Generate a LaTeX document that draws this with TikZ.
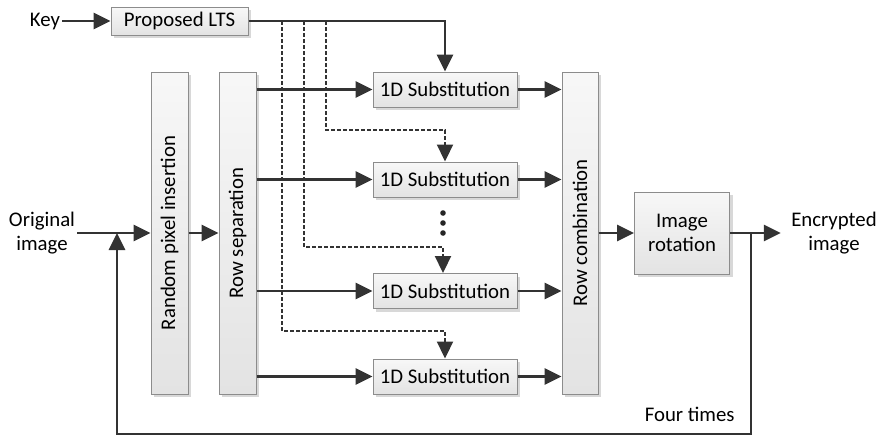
\documentclass[tikz,border=0pt]{standalone}
\usepackage{fontspec}
\setmainfont{Carlito}
\usetikzlibrary{arrows.meta,shadows}

\tikzset{
    box/.style={draw=black!45, line width=0.5pt, top color=black!3, bottom color=black!11,
        drop shadow={shadow xshift=1.5pt, shadow yshift=-1.5pt, fill=black!30},
        font=\fontsize{10.4}{12}\selectfont, align=center, inner sep=0pt},
    tallbox/.style={box, minimum width=18.5pt, minimum height=161pt},
    subbox/.style={box, minimum width=72pt, minimum height=17.5pt},
    lbl/.style={font=\fontsize{10.4}{12}\selectfont, align=center, inner sep=1pt},
    conn/.style={draw=black!80, line width=1.4pt, -{Triangle[length=8.5pt, width=8pt]}},
    ctrl/.style={draw=black!80, line width=1.1pt, dash pattern=on 1.8pt off 1.2pt,
        -{Triangle[length=8.5pt, width=8pt]}}
}

\begin{document}
\begin{tikzpicture}[x=0.5pt, y=-0.5pt]
    \useasboundingbox (0,0) rectangle (879,436);

    % Blocs
    \node[box, minimum width=68.5pt, minimum height=14pt] (lts) at (179.5,21) {Proposed LTS};
    \node[tallbox, label={[rotate=90, lbl]center:Random pixel insertion}] (rpi) at (169.5,233) {};
    \node[tallbox, label={[rotate=90, lbl]center:Row separation}] (rsep) at (237.5,233) {};
    \node[tallbox, minimum width=18pt, label={[rotate=90, lbl]center:Row combination}] (rcomb) at (580,233) {};
    \foreach \i/\yv in {1/89.5, 2/179.5, 3/291, 4/376.5} {
        \node[subbox] (sub\i) at (445,\yv) {1D Substitution};
    }
    \node[box, minimum width=47.5pt, minimum height=41pt] (rot) at (682,233) {Image\\rotation};

    % Textos
    \node[lbl] (key) at (45,21) {Key};
    \node[lbl] (orig) at (42,233) {Original\\image};
    \node[lbl] (enc) at (834,233) {Encrypted\\image};
    \node[lbl, anchor=east] (four) at (737,414) {Four times};

    % Flujo principal
    \draw[conn] (key) -- (lts);
    \draw[conn] (orig) -- (rpi);
    \draw[conn] (rpi) -- (rsep);
    \foreach \i in {1,...,4} {
        \draw[conn] (rsep.east |- sub\i) -- (sub\i);
        \draw[conn] (sub\i) -- (rcomb.west |- sub\i);
    }
    \draw[conn] (rcomb.east |- rot) -- (rot);
    \draw[conn, shorten >=4pt] (rot) -- (enc);
    \draw[conn] (lts.east) -| (sub1.north);

    % Claves a las otras filas
    \coordinate (d1) at (282,21);
    \coordinate (d2) at (304,21);
    \coordinate (d3) at (326,21);
    \draw[ctrl] (d3) -- ++(0,109) -| (sub2.north);
    \draw[ctrl] (d2) -- ++(0,226) -| ([xshift=-1pt]sub3.north);
    \draw[ctrl] (d1) -- ++(0,310) -| (sub4.north);
    \foreach \yv in {213,223,233} {
        \fill[black!85] (443,\yv) circle (1.4pt);
    }

    % Retroalimentacion
    \coordinate (tap) at (751,233);
    \coordinate (join) at (117,233);
    \draw[conn] (tap) |- (117,434) -- (join);

\end{tikzpicture}
\end{document}
